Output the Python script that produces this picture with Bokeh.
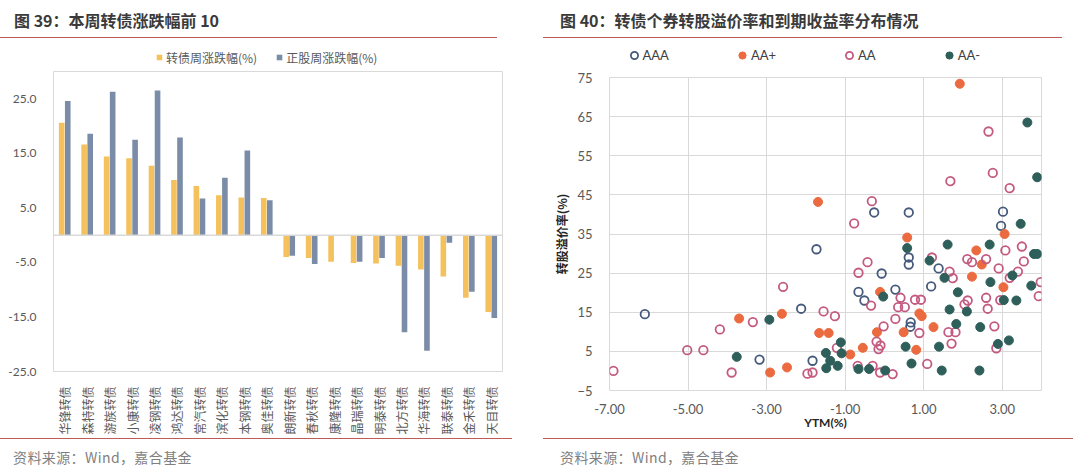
import math
from bokeh.plotting import figure
from bokeh.layouts import row, column
from bokeh.models import (FactorRange, Range1d, FixedTicker, PrintfTickFormatter, Span,
                          Legend, LegendItem, ColumnDataSource, Div)
from bokeh.core.properties import value
from bokeh.transform import dodge
from bokeh.embed import file_html
from bokeh.resources import INLINE

# ---------------- data: left chart ----------------
bond_names = ["华锋转债", "森特转债", "游族转债", "小康转债", "凌钢转债", "鸿达转债", "常汽转债",
              "滨化转债", "本钢转债", "奥佳转债", "朗新转债", "春秋转债", "康隆转债", "晶瑞转债",
              "明泰转债", "北方转债", "华海转债", "联泰转债", "金禾转债", "天目转债"]
bond_chg = [20.6, 16.6, 14.4, 14.1, 12.7, 10.1, 9.0, 7.3, 6.9, 6.8,
            -4.0, -4.2, -4.9, -5.1, -5.2, -5.6, -6.3, -7.6, -11.5, -14.1]
stock_chg = [24.6, 18.6, 26.3, 17.5, 26.5, 17.9, 6.7, 10.5, 15.5, 6.4,
             -3.8, -5.3, 0.0, -4.9, -4.2, -17.8, -21.2, -1.4, -10.4, -15.2]
bar_ticks = [-25, -15, -5, 5, 15, 25]
bar_series = ["转债周涨跌幅(%)", "正股周涨跌幅(%)"]

# ---------------- data: right chart ----------------
aaa_ytm = [-6.1, -3.18, -2.12, -1.83, -1.73, -0.26, 0.62, 0.62, 0.62, -0.07, -0.66, -0.51,
           0.28, 0.67, 0.66, 3.02, 2.97, 1.38, 1.19]
aaa_prem = [14.5, 2.9, 15.9, 2.6, 31.1, 40.5, 40.5, 29.0, 27.2, 24.9, 20.2, 18.0,
            20.8, 12.4, 11.3, 40.7, 37.1, 26.2, 21.6]

aap_ytm = [-3.70, -2.91, -2.48, -2.61, -1.69, 0.58, -0.11, -1.66, -1.42, -0.19, 0.49, -0.87,
           -0.55, 1.92, 3.06, 2.34, 2.48, 2.23, 3.03, 0.89, 0.95, 1.25, 0.81]
aap_prem = [13.4, -0.4, 0.9, 14.6, 43.2, 34.1, 20.2, 9.7, 9.7, 9.9, 9.9, 4.2,
            5.9, 73.4, 35.0, 30.8, 27.2, 24.1, 21.4, 14.7, 14.0, 11.2, 5.4]

aa_ytm = [-6.9, -5.02, -4.61, -4.19, -3.89, -3.35, -2.58, -1.96, -1.83, -0.32, -0.77, -0.43,
          -0.66, -0.34, 0.41, 0.35, 0.52, -1.55, -1.26, 0.28, -0.02, -0.2, -0.1, -0.15,
          -1.21, -0.30, -0.11, 0.21, -0.68, 1.68, 2.76, 3.19, 2.65, 3.08, 3.50, 2.11,
          2.23, 2.59, 2.91, 3.55, 3.40, 3.19, 3.98, 3.93, 1.66, 1.74, 1.21, 2.12,
          2.04, 2.59, 2.63, 2.95, 0.78, 0.93, 0.89, 1.63, 1.81, 2.80, 1.71, 2.85, 1.09]
aa_prem = [0.0, 5.3, 5.3, 10.6, -0.4, 12.5, 21.5, -0.7, -0.4, 43.4, 37.7, 27.8,
           25.1, 16.7, 18.7, 16.3, 16.3, 15.2, 14.0, 13.3, 11.4, 7.5, 6.5, 5.6,
           5.9, 1.3, -0.4, -0.8, 1.3, 48.5, 50.6, 46.7, 61.2, 30.8, 31.8, 28.6,
           27.8, 28.6, 26.2, 28.0, 25.4, 23.8, 22.7, 19.1, 25.4, 23.7, 29.0, 18.0,
           17.0, 18.7, 15.9, 18.1, 18.2, 18.2, 9.7, 9.9, 9.9, 11.4, 7.0, 5.8, 1.8]

aam_ytm = [-3.76, -2.93, 0.58, -0.03, -1.11, -1.49, -1.09, -1.38, -1.19, -1.48, 0.54, 0.69,
           -0.66, -0.39, 0.02, 3.89, 3.64, 3.47, 1.61, 2.68, 3.81, 3.89, 3.26, 3.74,
           2.70, 1.53, 1.15, 1.87, 2.10, 1.66, 3.04, 3.36, 1.83, 2.44, 2.89, 3.17,
           1.39, 1.46, 2.42]
aam_prem = [3.6, 13.1, 31.4, 19.0, 7.3, 4.6, 4.5, 2.6, 1.3, 0.7, 6.2, 1.9,
            0.5, 0.5, 0.1, 49.5, 63.5, 37.6, 32.3, 32.3, 29.9, 29.9, 24.4, 21.8,
            22.7, 23.8, 28.2, 20.1, 15.2, 15.7, 18.1, 18.0, 12.0, 11.2, 6.9, 7.8,
            6.2, 0.1, 0.1]

x_ticks = [-7, -5, -3, -1, 1, 3]
y_ticks = [-5, 5, 15, 25, 35, 45, 55, 65, 75]
grades = ["AAA", "AA+", "AA", "AA-"]

titles = ["图 39：本周转债涨跌幅前 10", "图 40：转债个券转股溢价率和到期收益率分布情况"]
source_text = "资料来源：Wind，嘉合基金"

# ---------------- styles ----------------
YELLOW = "#F4C15D"
BLUE = "#7B8CA8"
C_AAA = "#465A7C"
C_AAP = "#EB6A3F"
C_AA = "#C45A7F"
C_AAM = "#2F5F5A"
RED_LINE = "#BE5A57"
GRID = "#D9D9D9"
TICK_C = "#595959"
CJK = "Noto Sans CJK SC"
LAT = "Lato"

COL_W = 540
TOP_H = 38      # title strip
SRC_H = 32      # source strip
PAGE_H = 470


def title_div(text, left_margin, line_w, pad_left):
    html = (f'<div style="box-sizing:border-box;margin-left:{left_margin}px;width:{line_w}px;'
            f'height:{TOP_H}px;border-bottom:1px solid {RED_LINE};padding-top:8px;'
            f'padding-left:{pad_left}px;font-family:\'{CJK}\';font-weight:bold;font-size:16px;'
            f'line-height:24px;color:#3A3A3A;white-space:nowrap;">{text}</div>')
    return Div(text=html, width=COL_W, height=TOP_H, margin=0)


def source_div(text, left_margin, line_w, pad_left):
    html = (f'<div style="box-sizing:border-box;margin-left:{left_margin}px;width:{line_w}px;'
            f'height:{SRC_H}px;border-top:1px solid {RED_LINE};padding-top:10px;'
            f'padding-left:{pad_left}px;font-family:\'{CJK}\';font-size:14px;'
            f'letter-spacing:0.4px;line-height:16px;color:#7F7F7F;white-space:nowrap;">'
            f'{text}</div>')
    return Div(text=html, width=COL_W, height=SRC_H, margin=0)


def legend_strip(height):
    # a strip that only carries the legend; its view range holds none of the data
    lp = figure(width=COL_W, height=height, title=None, x_range=Range1d(1000, 1001),
                y_range=Range1d(1000, 1001), x_axis_type=None, y_axis_type=None,
                output_backend="svg", toolbar_location=None, min_border=0,
                frame_align=False)
    lp.outline_line_color = None
    return lp


# ================= left: bar chart =================
# frame (page): x 53..502, y 71..371
L_LEG_H = 33
p1 = figure(width=COL_W, height=PAGE_H - TOP_H - SRC_H - L_LEG_H, title=None,
            x_range=FactorRange(factors=bond_names, range_padding=0),
            y_range=Range1d(-25, 30), output_backend="svg", toolbar_location=None,
            min_border_left=53, min_border_right=38, min_border_top=0, min_border_bottom=67,
            frame_align=False)
src1 = ColumnDataSource(dict(name=bond_names, bond=bond_chg, stock=stock_chg))
p1.vbar(x=dodge("name", -0.135, range=p1.x_range), top="bond", bottom=0, width=0.25,
        source=src1, fill_color=YELLOW, line_color=None)
p1.vbar(x=dodge("name", 0.135, range=p1.x_range), top="stock", bottom=0, width=0.25,
        source=src1, fill_color=BLUE, line_color=None)
p1.add_layout(Span(location=0, dimension="width", line_color=GRID, line_width=1.5))

p1.grid.grid_line_color = None
p1.outline_line_color = GRID
p1.xaxis.major_label_orientation = math.pi / 2
p1.xaxis.major_label_text_font = CJK
p1.xaxis.major_label_text_font_size = "12px"
p1.xaxis.major_label_text_color = TICK_C
p1.xaxis.major_label_standoff = 9
p1.yaxis.ticker = FixedTicker(ticks=bar_ticks)
p1.yaxis.formatter = PrintfTickFormatter(format="%.1f")
p1.yaxis.major_label_text_font = LAT
p1.yaxis.major_label_text_font_size = "12px"
p1.yaxis.major_label_text_color = TICK_C
p1.yaxis.major_label_standoff = 11
for ax in (p1.xaxis, p1.yaxis):
    ax.axis_line_color = None
    ax.major_tick_line_color = None
    ax.minor_tick_line_color = None

lg1 = legend_strip(L_LEG_H)
lr1 = lg1.scatter(x=bond_chg, y=bond_chg, marker="square", size=6, fill_color=YELLOW,
                  line_color=None)
lr2 = lg1.scatter(x=stock_chg, y=stock_chg, marker="square", size=6, fill_color=BLUE,
                  line_color=None)
lg1.add_layout(Legend(items=[LegendItem(label=value(bar_series[0]), renderers=[lr1]),
                             LegendItem(label=value(bar_series[1]), renderers=[lr2])],
                      location=(152, 5), orientation="horizontal",
                      padding=0, margin=0, spacing=15, border_line_color=None,
                      background_fill_alpha=0, glyph_width=14, glyph_height=18,
                      label_height=18, label_width=0, label_standoff=0, label_text_font=CJK,
                      label_text_font_size="12px", label_text_color=TICK_C))

# ================= right: scatter =================
# frame (page): x 609..1041, y 77..390
R_LEG_H = 29
R_TOP = 10
p2 = figure(width=COL_W, height=PAGE_H - TOP_H - SRC_H - R_LEG_H, title=None,
            x_range=Range1d(-7, 4), y_range=Range1d(-5, 75),
            output_backend="svg", toolbar_location=None,
            min_border_left=69, min_border_right=39, min_border_top=R_TOP,
            min_border_bottom=48, frame_align=False)
p2.xaxis.ticker = FixedTicker(ticks=x_ticks)
p2.yaxis.ticker = FixedTicker(ticks=y_ticks)
p2.xaxis.formatter = PrintfTickFormatter(format="%.2f")
p2.grid.grid_line_color = GRID
p2.grid.grid_line_width = 1
p2.outline_line_color = GRID

styles = [dict(fill_color=None, line_color=C_AAA, line_width=1.8, size=8.5),
          dict(fill_color=C_AAP, line_color=C_AAP, line_width=1, size=9),
          dict(fill_color=None, line_color=C_AA, line_width=1.8, size=8.5),
          dict(fill_color=C_AAM, line_color=C_AAM, line_width=1, size=9)]
series_x = [aaa_ytm, aap_ytm, aa_ytm, aam_ytm]
series_y = [aaa_prem, aap_prem, aa_prem, aam_prem]
for xs, ys, st in zip(series_x, series_y, styles):
    p2.scatter(xs, ys, marker="circle", **st)

for ax in (p2.xaxis, p2.yaxis):
    ax.axis_line_color = None
    ax.major_tick_line_color = None
    ax.minor_tick_line_color = None
    ax.major_label_text_font = LAT
    ax.major_label_text_font_size = "13px"
    ax.major_label_text_color = TICK_C
p2.xaxis.major_label_standoff = 7
p2.yaxis.major_label_standoff = 11
p2.yaxis.axis_label = "转股溢价率(%)"
p2.yaxis.axis_label_text_font = CJK
p2.yaxis.axis_label_text_font_size = "12px"
p2.yaxis.axis_label_text_font_style = "bold"
p2.yaxis.axis_label_text_color = "#262626"
p2.yaxis.axis_label_standoff = 4
p2.xaxis.axis_label = "YTM(%)"
p2.xaxis.axis_label_text_font = LAT
p2.xaxis.axis_label_text_font_size = "12px"
p2.xaxis.axis_label_text_font_style = "bold"
p2.xaxis.axis_label_text_color = "#262626"
p2.xaxis.axis_label_standoff = -2

lg2 = legend_strip(R_LEG_H)
leg_rs = [lg2.scatter(xs, ys, marker="circle", **st)
          for xs, ys, st in zip(series_x, series_y, styles)]
lg2.add_layout(Legend(items=[LegendItem(label=value(g), renderers=[r])
                             for g, r in zip(grades, leg_rs)],
                      location=(84.5, 3), orientation="horizontal",
                      padding=0, margin=0, spacing=64, border_line_color=None,
                      background_fill_alpha=0, glyph_width=18, glyph_height=18,
                      label_height=18, label_width=0, label_standoff=-3, label_text_font=LAT,
                      label_text_font_size="13px", label_text_color="#404040"))

left = column(title_div(titles[0], 0, 497, 14), lg1, p1,
              source_div(source_text, 0, 512, 13), spacing=0)
right = column(title_div(titles[1], 3, 519, 17), lg2, p2,
               source_div(source_text, 3, 530, 17), spacing=0)
layout = row(left, right, spacing=0)
open("out.html", "w").write(file_html(layout, INLINE))
